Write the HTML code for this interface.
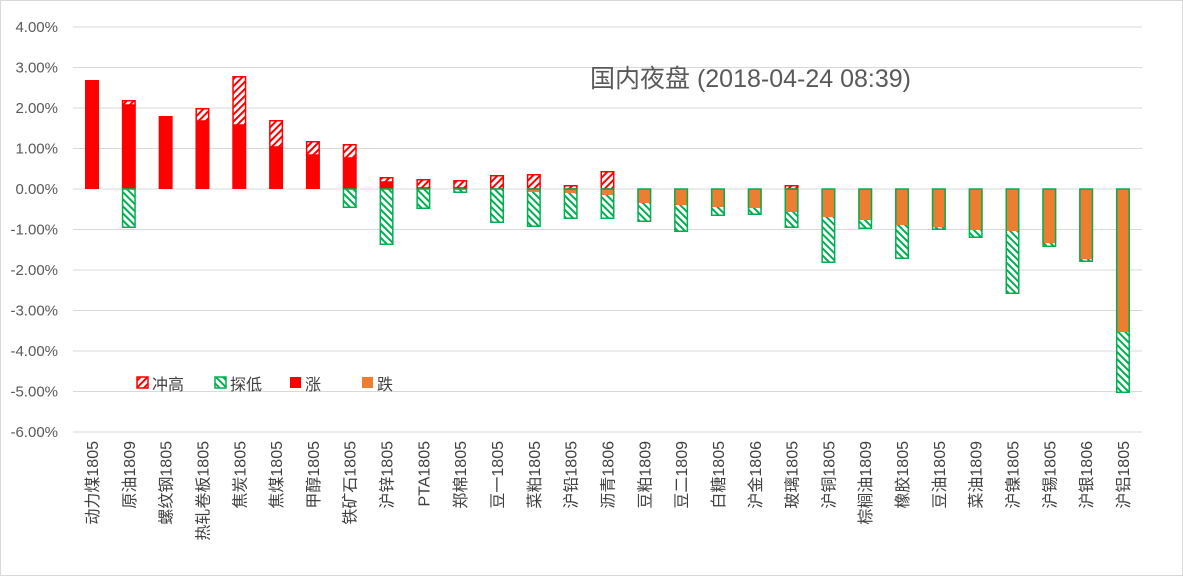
<!DOCTYPE html>
<html><head><meta charset="utf-8"><style>
body{margin:0;background:#fff;}
svg{display:block;font-family:"Liberation Sans","Noto Sans CJK SC",sans-serif;}
</style></head><body>
<svg id="c" width="1183" height="576" viewBox="0 0 1183 576" xmlns="http://www.w3.org/2000/svg">
<defs>
<pattern id="ph" width="5" height="5" patternUnits="userSpaceOnUse" patternTransform="rotate(45)">
<rect width="5" height="5" fill="#fff"/><rect width="2" height="5" fill="#ff0000"/></pattern>
<pattern id="pl" width="5" height="5" patternUnits="userSpaceOnUse" patternTransform="rotate(-45)">
<rect width="5" height="5" fill="#fff"/><rect width="2" height="5" fill="#00b050"/></pattern>
</defs>
<rect x="0.5" y="0.5" width="1182" height="575" fill="#fff" stroke="#d9d9d9"/>
<g id="grid"></g>
<g id="bars"></g>
<text x="590" y="87" font-size="25" fill="#595959">国内夜盘 (2018-04-24 08:39)</text>
<g font-size="16" fill="#404040">
<rect x="137" y="377" width="11" height="11" fill="url(#ph)" stroke="#ff0000" stroke-width="1.5"/><text x="152" y="390">冲高</text>
<rect x="215" y="377" width="11" height="11" fill="url(#pl)" stroke="#00b050" stroke-width="1.5"/><text x="230" y="390">探低</text>
<rect x="290" y="377" width="11" height="11" fill="#ff0000"/><text x="305" y="390">涨</text>
<rect x="362" y="377" width="11" height="11" fill="#ed7d31"/><text x="377" y="390">跌</text>
</g>
</svg>
<script>
(function(){
var Z=189,U=40.5,ns="http://www.w3.org/2000/svg";
function el(t,a,p,txt){var e=document.createElementNS(ns,t);for(var k in a)e.setAttribute(k,a[k]);if(txt)e.textContent=txt;p.appendChild(e);return e;}
var g=document.getElementById('grid');
for(var i=4;i>=-6;i--){var y=Z-i*U;el('line',{x1:73,x2:1142,y1:y,y2:y,stroke:'#d9d9d9','stroke-width':1},g);
el('text',{x:58,y:y+5,'text-anchor':'end','font-size':15,fill:'#595959'},g,i.toFixed(2)+'%');}
var names=["动力煤1805","原油1809","螺纹钢1805","热轧卷板1805","焦炭1805","焦煤1805","甲醇1805","铁矿石1805","沪锌1805","PTA1805","郑棉1805","豆一1805","菜粕1805","沪铅1805","沥青1806","豆粕1809","豆二1809","白糖1805","沪金1806","玻璃1805","沪铜1805","棕榈油1809","橡胶1805","豆油1805","菜油1809","沪镍1805","沪锡1805","沪银1806","沪铝1805"];
var d=[[80,82,189],[100,105,228],[116,116,189],[108,121,189],[76,125,189],[120,147,189],[141,155,189],[144,158,208],[177,182,245],[179,188,209],[180,188,193],[175,189,223],[174,192,227],[185,193,219],[171,195,219],
[189,203,222],[189,205,232],[189,207,216],[189,208,215],[185,212,228],[189,217,263],[189,220,229],[189,225,259],[189,227,230],[189,230,238],[189,231,294],[189,243,247],[189,259,262],[189,332,393]];
var b=document.getElementById('bars');
for(var i=0;i<29;i++){var cx=92+i*36.82,x=cx-7,w=14,h=d[i][0],c=d[i][1],l=d[i][2];
 if(c<Z)el('rect',{x:x,y:c,width:w,height:Z-c,fill:'#ff0000'},b);
 else if(c>Z){el('rect',{x:x,y:Z,width:w,height:c-Z,fill:'#ed7d31'},b);}
 var tp=Math.min(c,Z);
 if(h<tp-1)el('rect',{x:x+0.75,y:h+0.75,width:w-1.5,height:tp-h-0.75,fill:'url(#ph)',stroke:'#ff0000','stroke-width':1.5},b);
 var bt=Math.max(c,Z);
 if(l>bt+1)el('rect',{x:x+0.75,y:bt,width:w-1.5,height:l-bt-0.75,fill:'url(#pl)'},b);
 if(l>Z+1)el('rect',{x:x+0.75,y:Z,width:w-1.5,height:l-Z-0.75,fill:'none',stroke:'#00b050','stroke-width':1.5},b);
 el('text',{x:0,y:0,'text-anchor':'end','font-size':16,fill:'#404040',transform:'translate('+(cx+6)+',441) rotate(-90)'},b,names[i]);
}
})();
</script>
</body></html>
